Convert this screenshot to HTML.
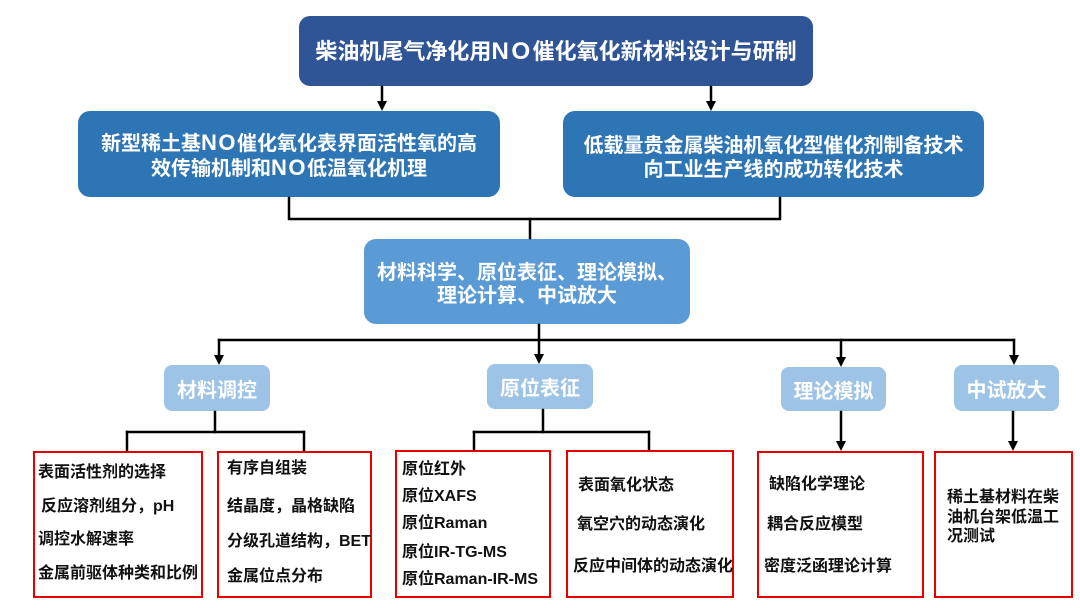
<!DOCTYPE html>
<html><head><meta charset="utf-8">
<style>
*{margin:0;padding:0;box-sizing:border-box}
body{width:1080px;height:608px;background:#fff;position:relative;overflow:hidden;font-family:"Liberation Sans","Noto Sans CJK SC",sans-serif;font-weight:bold}
.b{position:absolute;color:#fff;display:flex;flex-direction:column;align-items:center;justify-content:center;text-align:center;white-space:nowrap}
.r{position:absolute;border:2.5px solid #e60000}
.t{position:absolute;font-size:16px;line-height:22px;height:22px;color:#111;white-space:nowrap}
.no{font-size:1.1em;letter-spacing:1.5px;line-height:1}
svg{position:absolute;left:0;top:0}
</style></head><body>

<div class="b" style="left:299px;top:16px;width:514px;height:70px;background:#2f5597;border-radius:11px;font-size:22px;line-height:26px;padding-top:2px">
<div>柴油机尾气净化用<span class="no" style="letter-spacing:2.5px">NO</span>催化氧化新材料设计与研制</div></div>

<div class="b" style="left:78px;top:111px;width:422px;height:86px;background:#2e75b6;border-radius:12px;font-size:20px;line-height:25px;padding-top:6px">
<div>新型稀土基<span class="no">NO</span>催化氧化表界面活性氧的高</div>
<div>效传输机制和<span class="no">NO</span>低温氧化机理</div></div>

<div class="b" style="left:563px;top:111px;width:421px;height:86px;background:#2e75b6;border-radius:12px;font-size:20px;line-height:24px;padding-top:8px">
<div>低载量贵金属柴油机氧化型催化剂制备技术</div>
<div>向工业生产线的成功转化技术</div></div>

<div class="b" style="left:364px;top:239px;width:326px;height:85px;background:#5b9bd5;border-radius:12px;font-size:20px;line-height:23px;padding-top:6px">
<div>材料科学、原位表征、理论模拟、</div>
<div>理论计算、中试放大</div></div>

<div class="b" style="left:164px;top:365px;width:106px;height:46px;background:#9dc3e6;border-radius:8px;font-size:20px;padding-top:1px">材料调控</div>
<div class="b" style="left:487px;top:364px;width:106px;height:45px;background:#9dc3e6;border-radius:8px;font-size:20px;">原位表征</div>
<div class="b" style="left:781px;top:367px;width:105px;height:44px;background:#9dc3e6;border-radius:8px;font-size:20px;">理论模拟</div>
<div class="b" style="left:954px;top:365px;width:105px;height:46px;background:#9dc3e6;border-radius:8px;font-size:20px;">中试放大</div>

<div class="r" style="left:33px;top:451px;width:170px;height:147px"></div>
<div class="r" style="left:217px;top:451px;width:155px;height:147px"></div>
<div class="r" style="left:395px;top:450px;width:156px;height:148px"></div>
<div class="r" style="left:566px;top:450px;width:168px;height:148px"></div>
<div class="r" style="left:757px;top:451px;width:167px;height:147px"></div>
<div class="r" style="left:934px;top:451px;width:139px;height:147px"></div>

<div class="t" style="left:38px;top:462px">表面活性剂的选择</div>
<div class="t" style="left:41px;top:496px">反应溶剂组分，pH</div>
<div class="t" style="left:38px;top:529px">调控水解速率</div>
<div class="t" style="left:38px;top:563px">金属前驱体种类和比例</div>

<div class="t" style="left:227px;top:458px">有序自组装</div>
<div class="t" style="left:227px;top:496px">结晶度，晶格缺陷</div>
<div class="t" style="left:227px;top:531px">分级孔道结构，BET</div>
<div class="t" style="left:227px;top:566px">金属位点分布</div>

<div class="t" style="left:402px;top:459px">原位红外</div>
<div class="t" style="left:402px;top:486px">原位XAFS</div>
<div class="t" style="left:402px;top:513px">原位Raman</div>
<div class="t" style="left:402px;top:542px">原位IR-TG-MS</div>
<div class="t" style="left:402px;top:569px">原位Raman-IR-MS</div>

<div class="t" style="left:578px;top:475px">表面氧化状态</div>
<div class="t" style="left:577px;top:514px">氧空穴的动态演化</div>
<div class="t" style="left:573px;top:556px">反应中间体的动态演化</div>

<div class="t" style="left:769px;top:474px">缺陷化学理论</div>
<div class="t" style="left:767px;top:514px">耦合反应模型</div>
<div class="t" style="left:764px;top:556px">密度泛函理论计算</div>

<div class="t" style="left:947px;top:488px;line-height:19px">稀土基材料在柴</div>
<div class="t" style="left:947px;top:508px;line-height:19px">油机台架低温工</div>
<div class="t" style="left:947px;top:527px;line-height:19px">况测试</div>

<svg width="1080" height="608" viewBox="0 0 1080 608">
<g stroke="#000" stroke-width="2.5" fill="none" stroke-linecap="square">
<path d="M382 87 V103"/>
<path d="M711 87 V103"/>
<path d="M289 198 V219 H780 V198"/>
<path d="M530 219 V238"/>
<path d="M539 325 V340"/>
<path d="M219 340 H1014"/>
<path d="M219 340 V356"/>
<path d="M539 340 V355"/>
<path d="M841 340 V359"/>
<path d="M1014 340 V357"/>
<path d="M215 412 V432"/>
<path d="M127 432 H304"/>
<path d="M127 432 V450"/>
<path d="M304 432 V450"/>
<path d="M543 410 V432"/>
<path d="M474 432 H649"/>
<path d="M474 432 V449"/>
<path d="M649 432 V449"/>
<path d="M841 412 V442"/>
<path d="M1013 412 V442"/>
</g>
<g fill="#000">
<path d="M377 101 L387 101 L382 111 Z"/>
<path d="M706 101 L716 101 L711 111 Z"/>
<path d="M214 355 L224 355 L219 365 Z"/>
<path d="M534 354 L544 354 L539 364 Z"/>
<path d="M836 357 L846 357 L841 367 Z"/>
<path d="M1009 355 L1019 355 L1014 365 Z"/>
<path d="M836 441 L846 441 L841 451 Z"/>
<path d="M1008 441 L1018 441 L1013 451 Z"/>
</g>
</svg>
</body></html>
